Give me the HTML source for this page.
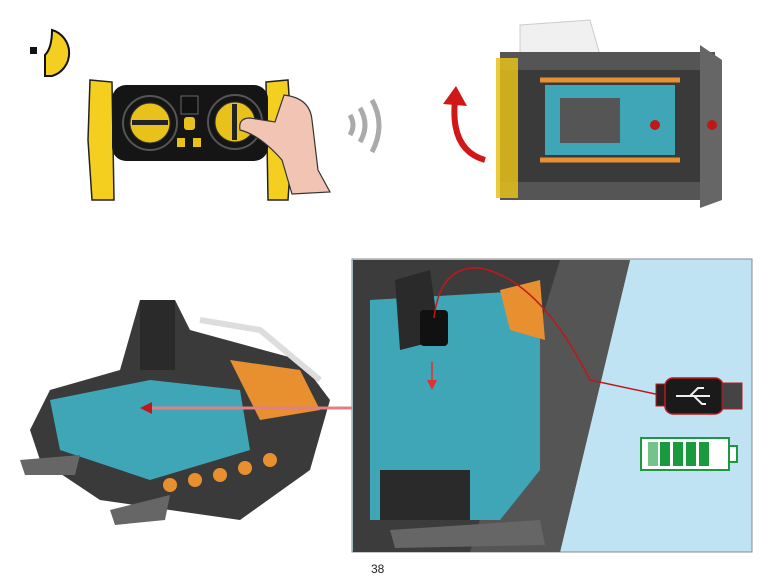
<!DOCTYPE html>
<html><head><style>body{margin:0;background:#fff;width:769px;height:582px;overflow:hidden}</style></head><body>
<svg width="769" height="582" viewBox="0 0 769 582" xmlns="http://www.w3.org/2000/svg">
<rect x="30" y="47" width="7" height="7" fill="#111"/>
<path d="M52 30 A24 24 0 0 1 52 76 L45 76 L45 55 Q52 48 52 30Z" fill="#f5cf1f" stroke="#111" stroke-width="2"/>
<!-- remote -->
<path d="M90 80 L112 82 L114 200 L92 200 L88 140Z" fill="#f5cf1f" stroke="#222" stroke-width="1.5"/>
<path d="M266 82 L288 80 L292 140 L288 200 L268 200Z" fill="#f5cf1f" stroke="#222" stroke-width="1.5"/>
<rect x="112" y="85" width="156" height="76" rx="14" fill="#151515"/>
<circle cx="150" cy="123" r="27" fill="none" stroke="#555" stroke-width="2"/>
<circle cx="150" cy="123" r="20" fill="#e8c21a" stroke="#333"/>
<rect x="132" y="120" width="36" height="5" fill="#222"/>
<circle cx="235" cy="122" r="27" fill="none" stroke="#555" stroke-width="2"/>
<circle cx="235" cy="122" r="20" fill="#e8c21a" stroke="#333"/>
<rect x="232" y="104" width="5" height="36" fill="#222"/>
<rect x="181" y="96" width="17" height="18" fill="#111" stroke="#666"/>
<rect x="184" y="117" width="11" height="13" rx="3" fill="#e8c21a"/>
<rect x="177" y="138" width="8" height="9" fill="#e8c21a"/><rect x="193" y="138" width="8" height="9" fill="#e8c21a"/>
<path d="M284 95 Q310 98 312 120 L318 170 L330 192 L292 194 L282 160 Q260 135 240 130 Q238 118 250 118 L275 122Z" fill="#f2c4b4" stroke="#333" stroke-width="1.2"/>
<g fill="none" stroke="#aaa" stroke-width="5"><path d="M350 115 Q356 125 350 135"/><path d="M360 108 Q370 125 360 142"/><path d="M372 100 Q386 125 372 152"/></g>
<!-- red arrow -->
<path d="M485 160 Q450 150 455 100" fill="none" stroke="#d01818" stroke-width="6"/>
<path d="M443 104 L456 86 L467 106Z" fill="#d01818"/>
<!-- top right vehicle -->
<path d="M520 25 L590 20 L600 55 L520 55Z" fill="#f0f0f0" stroke="#ccc"/>
<rect x="500" y="52" width="215" height="148" fill="#3a3a3a"/>
<rect x="500" y="52" width="215" height="18" fill="#555"/>
<rect x="500" y="182" width="215" height="18" fill="#555"/>
<rect x="496" y="58" width="22" height="140" fill="#e8c21a" opacity=".85"/>
<path d="M700 45 L722 60 L722 200 L700 208Z" fill="#666"/>
<rect x="545" y="85" width="130" height="70" fill="#3fa6b8"/>
<rect x="560" y="98" width="60" height="45" fill="#555"/>
<path d="M540 80 L680 80 M540 160 L680 160" stroke="#e89030" stroke-width="5"/>
<circle cx="655" cy="125" r="5" fill="#c01818"/><circle cx="712" cy="125" r="5" fill="#c01818"/>
<!-- bottom left vehicle -->
<path d="M30 430 L50 390 L120 370 L140 300 L175 300 L190 330 L300 360 L330 400 L310 470 L240 520 L100 500 L40 460Z" fill="#3a3a3a"/>
<path d="M50 400 L150 380 L240 390 L250 450 L150 480 L60 450Z" fill="#3fa6b8"/>
<path d="M230 360 L300 370 L320 410 L260 420Z" fill="#e89030"/>
<rect x="140" y="300" width="35" height="70" fill="#2a2a2a"/>
<path d="M200 320 L260 330 L320 380" stroke="#ddd" stroke-width="6" fill="none"/>
<path d="M20 460 L80 455 L75 475 L25 475Z" fill="#666"/>
<path d="M110 510 L170 495 L165 520 L115 525Z" fill="#666"/>
<g fill="#e89030"><circle cx="170" cy="485" r="7"/><circle cx="195" cy="480" r="7"/><circle cx="220" cy="475" r="7"/><circle cx="245" cy="468" r="7"/><circle cx="270" cy="460" r="7"/></g>
<!-- panel -->
<rect x="352" y="259" width="400" height="293" fill="#bfe3f3" stroke="#888"/>
<path d="M353 260 L630 260 L560 552 L353 552Z" fill="#3c3c3c"/>
<path d="M560 260 L630 260 L560 552 L470 552Z" fill="#555"/>
<path d="M370 300 L540 290 L540 470 L500 520 L370 520Z" fill="#3fa6b8"/>
<path d="M395 280 L430 270 L440 340 L400 350Z" fill="#2a2a2a"/>
<rect x="420" y="310" width="28" height="36" rx="4" fill="#111"/>
<path d="M500 290 L540 280 L545 340 L510 330Z" fill="#e89030"/>
<rect x="380" y="470" width="90" height="50" fill="#2a2a2a"/>
<path d="M390 530 L540 520 L545 545 L395 548Z" fill="#666"/>
<path d="M434 318 Q440 265 480 268 Q540 280 590 380 L660 395" fill="none" stroke="#c01818" stroke-width="1.5"/>
<path d="M432 362 L432 385" stroke="#e03030" stroke-width="1.5"/><path d="M427 380 L432 390 L437 380Z" fill="#e03030"/>
<rect x="656" y="384" width="10" height="22" fill="#222" stroke="#c01818"/>
<rect x="665" y="378" width="58" height="36" rx="8" fill="#1a1a1a" stroke="#c01818" stroke-width="1.5"/>
<rect x="722" y="383" width="20" height="26" fill="#444" stroke="#c01818"/>
<path d="M676 396 L710 396 M690 396 L698 388 L704 388 M694 396 L702 404 L706 404" stroke="#eee" stroke-width="2" fill="none"/>
<rect x="641" y="438" width="88" height="32" fill="#fff" stroke="#1a9a3e" stroke-width="2"/>
<rect x="729" y="446" width="8" height="16" fill="#fff" stroke="#1a9a3e" stroke-width="2"/>
<g fill="#1a9a3e"><rect x="648" y="442" width="10" height="24" opacity=".6"/><rect x="660" y="442" width="10" height="24"/><rect x="673" y="442" width="10" height="24"/><rect x="686" y="442" width="10" height="24"/><rect x="699" y="442" width="10" height="24"/></g>
<!-- connector -->
<path d="M352 408 L145 408" stroke="#e08080" stroke-width="3"/>
<path d="M152 402 L140 408 L152 414Z" fill="#c01818"/>
<text x="371" y="573" font-family="Liberation Sans, sans-serif" font-size="12" fill="#222">38</text>
</svg>
</body></html>
